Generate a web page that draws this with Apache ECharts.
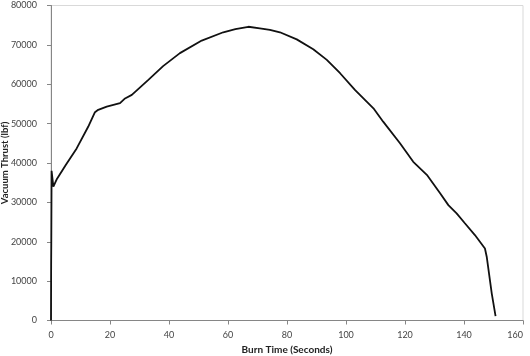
<!DOCTYPE html>
<html>
<head>
<meta charset="utf-8">
<script src="https://cdn.jsdelivr.net/npm/echarts@6/dist/echarts.min.js"></script>
<style>
html,body{margin:0;padding:0;background:#fff;}
#chart{width:530px;height:356px;}
</style>
</head>
<body>
<div id="chart"></div>
<script>
var burnTime = [0, 0.05, 0.1, 0.2, 0.4, 0.8, 1.9, 5, 8.7, 12.6, 14.9, 16.0, 18.9, 23.4, 25.1, 27.4, 33.0, 38.0, 43.7, 51.1, 58.4, 62.5, 66.9, 70.8, 74.2, 77.6, 83.3, 88.9, 93.5, 98.0, 103.1, 109.3, 112.6, 118.3, 122.8, 127.4, 131.9, 134.7, 137.5, 140.3, 143.7, 147.1, 147.7, 149.4, 150.7];
var thrust = [0, 14000, 20000, 38000, 37500, 34000, 35800, 39500, 43700, 49200, 52900, 53500, 54300, 55200, 56400, 57300, 61100, 64600, 67900, 71100, 73200, 74000, 74600, 74200, 73800, 73200, 71400, 68900, 66200, 62800, 58500, 53900, 50500, 45000, 40300, 37000, 32300, 29300, 27200, 24700, 21700, 18300, 16200, 6900, 1100];
var xTicks = {min: 0, max: 160, interval: 20};
var yTicks = {min: 0, max: 80000, interval: 10000};

var data = burnTime.map(function(t, i){ return [t, thrust[i]]; });
var font = 'Lato, "Open Sans", sans-serif';
var plain = function(v){ return String(v); };
var chart = echarts.init(document.getElementById('chart'));
chart.setOption({
  animation: false,
  backgroundColor: '#fff',
  grid: {left: 51, right: 7, top: 5.5, bottom: 35.5, containLabel: false, outerBoundsMode: 'none', show: true, borderColor: '#d9d9d9', borderWidth: 1, backgroundColor: 'transparent'},
  xAxis: {
    type: 'value', min: xTicks.min, max: xTicks.max, interval: xTicks.interval,
    name: 'Burn Time (Seconds)', nameLocation: 'middle', nameGap: 24, nameMoveOverlap: false,
    nameTextStyle: {fontFamily: font, fontWeight: 'bold', fontSize: 10, color: '#222'},
    axisLine: {show: true, lineStyle: {color: '#868686', width: 1}},
    axisTick: {show: true, inside: false, length: 4, lineStyle: {color: '#868686'}},
    axisLabel: {fontFamily: font, fontSize: 9, color: '#444', margin: 10, formatter: plain, alignMaxLabel: 'right'},
    splitLine: {show: false}
  },
  yAxis: {
    type: 'value', min: yTicks.min, max: yTicks.max, interval: yTicks.interval,
    name: 'Vacuum Thrust (lbf)', nameLocation: 'middle', nameGap: 41, nameMoveOverlap: false,
    nameTextStyle: {fontFamily: font, fontWeight: 'bold', fontSize: 9.5, color: '#222'},
    axisLine: {show: true, lineStyle: {color: '#868686', width: 1}},
    axisTick: {show: true, inside: false, length: 4, lineStyle: {color: '#868686'}},
    axisLabel: {fontFamily: font, fontSize: 9, color: '#444', margin: 14, formatter: plain},
    splitLine: {show: false}
  },
  series: [{
    type: 'line', data: data, showSymbol: false, smooth: false,
    lineStyle: {color: '#111', width: 1.8}
  }]
});
</script>
</body>
</html>
